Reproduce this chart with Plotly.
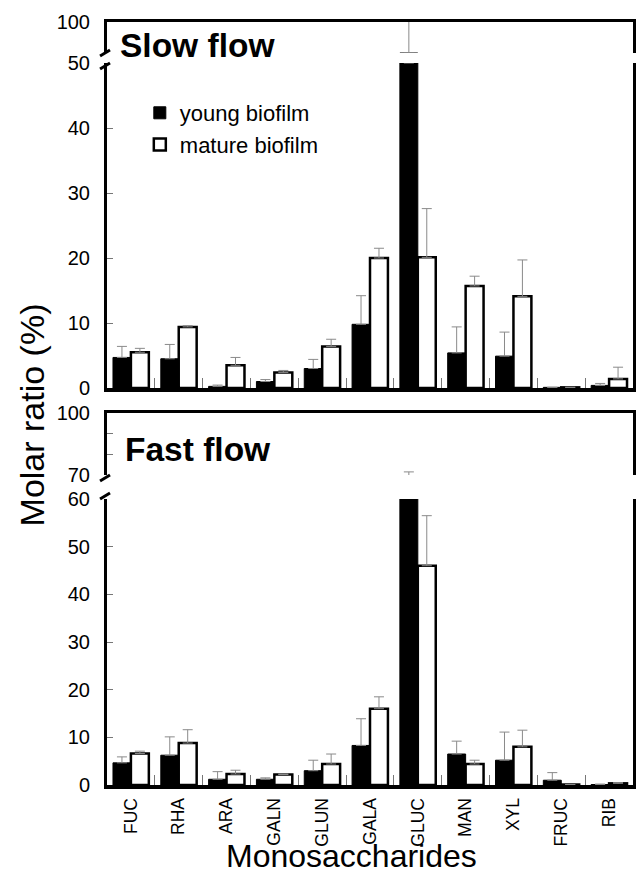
import plotly.graph_objects as go

categories = ["FUC", "RHA", "ARA", "GALN", "GLUN", "GALA", "GLUC", "MAN", "XYL", "FRUC", "RIB"]

slow_young = [4.7, 4.5, 0.25, 1.0, 3.0, 9.8, 50.0, 5.4, 4.9, 0.1, 0.4]
slow_young_err = [1.7, 2.2, 0.2, 0.3, 1.4, 4.4, 52.0, 4.0, 3.7, 0.0, 0.3]
slow_mature = [5.5, 9.4, 3.5, 2.4, 6.4, 20.0, 20.1, 15.7, 14.1, 0.1, 1.4]
slow_mature_err = [0.6, 0.2, 1.2, 0.3, 1.1, 1.5, 7.5, 1.5, 5.6, 0.0, 1.8]

fast_young = [4.65, 6.25, 1.2, 1.2, 3.0, 8.3, 61.0, 6.5, 5.2, 1.0, 0.1]
fast_young_err = [1.25, 3.85, 1.6, 0.3, 2.2, 5.6, 10.5, 2.7, 5.9, 1.6, 0.1]
fast_mature = [6.6, 8.8, 2.3, 2.2, 4.4, 16.0, 46.0, 4.4, 8.0, 0.1, 0.35]
fast_mature_err = [0.5, 2.8, 0.8, 0.1, 2.1, 2.5, 10.5, 0.8, 3.5, 0.0, 0.15]

series_names = ["young biofilm", "mature biofilm"]

FONT = "Liberation Sans, Arial, Helvetica, sans-serif"
W, H = 638, 876
ML, MR, MT, MB = 107, 2, 22, 91
PH = H - MT - MB
PW = W - ML - MR


def py(y):
    return (H - MB - y) / PH


def px(x):
    return (x - ML) / PW


def err(arr):
    return dict(type="data", array=arr, arrayminus=[0] * len(arr), symmetric=False,
                color="#8a8a8a", thickness=1, width=5)


fig = go.Figure()

panels = [
    (slow_young, slow_young_err, slow_mature, slow_mature_err, [("x3", "y3"), ("x4", "y4")], True),
    (fast_young, fast_young_err, fast_mature, fast_mature_err, [("x", "y"), ("x2", "y2")], False),
]

for yv, ye, mv, me, axes, leg in panels:
    for i, (xa, ya) in enumerate(axes):
        show = leg and i == 0
        fig.add_trace(go.Bar(
            x=categories, y=yv, name=series_names[0], xaxis=xa, yaxis=ya,
            marker=dict(color="black", line=dict(color="black", width=1)),
            error_y=err(ye), showlegend=show, legendrank=1))
        fig.add_trace(go.Bar(
            x=categories, y=mv, name=series_names[1], xaxis=xa, yaxis=ya,
            marker=dict(color="white", line=dict(color="black", width=2.5)),
            error_y=err(me), showlegend=show, legendrank=2))

tickfont = dict(family=FONT, size=20, color="black")
common_y = dict(showline=True, linecolor="black", linewidth=3, mirror=True,
                ticks="inside", ticklen=6, tickcolor="#777", tickwidth=1,
                showgrid=False, zeroline=False, tickfont=tickfont,
                ticklabelstandoff=10, fixedrange=True)
common_x = dict(type="category", categoryorder="array", categoryarray=categories,
                showgrid=False, zeroline=False, showline=True, linecolor="black",
                fixedrange=True)

fig.update_layout(
    width=W, height=H,
    margin=dict(l=ML, r=MR, t=MT, b=MB),
    paper_bgcolor="white", plot_bgcolor="white",
    barmode="group", bargap=0.25, bargroupgap=0.0,
    font=dict(family=FONT, color="black"),
    xaxis=dict(common_x, anchor="y", domain=[0, 1], linewidth=4,
               ticks="inside", tickson="boundaries", ticklen=10, tickcolor="#777",
               tickwidth=1, tickangle=-90, tickfont=dict(family=FONT, size=17.5),
               ticklabelstandoff=2),
    xaxis2=dict(common_x, anchor="y2", matches="x", side="top", linewidth=3,
                ticks="", showticklabels=False),
    xaxis3=dict(common_x, anchor="y3", matches="x", linewidth=4,
                ticks="inside", tickson="boundaries", ticklen=10, tickcolor="#777",
                tickwidth=1, showticklabels=False),
    xaxis4=dict(common_x, anchor="y4", matches="x", side="top", linewidth=3,
                ticks="", showticklabels=False),
    yaxis=dict(common_y, anchor="x", domain=[0, py(499)], range=[0, 60],
               tickvals=[0, 10, 20, 30, 40, 50, 60]),
    yaxis2=dict(common_y, anchor="x2", domain=[py(475), py(413)], range=[70, 100],
                tickvals=[70, 80, 90, 100], ticktext=["70", "", "", "100"]),
    yaxis3=dict(common_y, anchor="x3", domain=[py(388), py(63)], range=[0, 50],
                tickvals=[0, 10, 20, 30, 40, 50]),
    yaxis4=dict(common_y, anchor="x4", domain=[py(53), 1.0], range=[50, 100],
                tickvals=[100]),
    legend=dict(x=px(140), y=py(92), xanchor="left", yanchor="top",
                bgcolor="rgba(0,0,0,0)", font=dict(family=FONT, size=22),
                itemwidth=30, tracegroupgap=0),
    showlegend=True,
)

annotations = [
    dict(text="<b>Slow flow</b>", x=px(118), y=py(45), xref="paper", yref="paper",
         xanchor="left", yanchor="middle", showarrow=False,
         font=dict(family=FONT, size=33.5, color="black")),
    dict(text="<b>Fast flow</b>", x=px(123), y=py(449), xref="paper", yref="paper",
         xanchor="left", yanchor="middle", showarrow=False,
         font=dict(family=FONT, size=33.5, color="black")),
    dict(text="Monosaccharides", x=px(353), y=py(856), xref="paper", yref="paper",
         xanchor="center", yanchor="middle", showarrow=False,
         font=dict(family=FONT, size=32, color="black")),
    dict(text="Molar ratio (%)", x=px(32), y=py(415), xref="paper", yref="paper",
         xanchor="center", yanchor="middle", showarrow=False, textangle=-90,
         font=dict(family=FONT, size=34, color="black")),
]
fig.update_layout(annotations=annotations)

# axis-break marks (decorative)
shapes = []
for (y_hi, y_lo) in [(50, 63), (475, 493)]:
    for yy in (y_hi, y_lo):
        shapes.append(dict(type="line", xref="paper", yref="paper",
                           x0=px(100), y0=py(yy + 6), x1=px(110), y1=py(yy),
                           line=dict(color="black", width=3)))
fig.update_layout(shapes=shapes)

fig.write_html("out.html")
